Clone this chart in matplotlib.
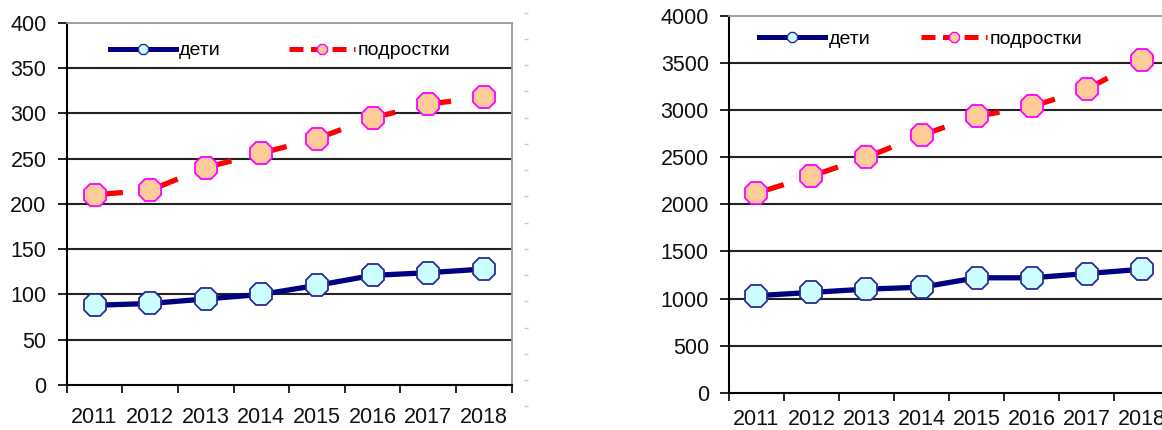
import matplotlib
matplotlib.use("Agg")
import matplotlib.pyplot as plt
import numpy as np

plt.rcParams['font.family'] = ['Liberation Sans', 'DejaVu Sans']

# данные
years = ['2011', '2012', '2013', '2014', '2015', '2016', '2017', '2018']
deti_left = [88, 90, 95, 100, 110, 121, 124, 128]
podr_left = [210, 215, 240, 256, 272, 295, 310, 318]
deti_right = [1030, 1065, 1100, 1120, 1220, 1220, 1265, 1310]
podr_right = [2120, 2300, 2500, 2735, 2935, 3040, 3220, 3535]

navy = '#000080'
txt = '#111111'


def draw_panel(ax, deti, podr, ymax, step, xpad, leg_anchor, colspace):
    x = np.arange(len(years))
    ax.set_xlim(-0.5, len(years) - 0.5)
    ax.set_ylim(0, ymax)

    # сетка
    for v in np.arange(step, ymax, step):
        ax.axhline(v, color='#222222', lw=1.5, zorder=1)

    ax.plot(x, deti, color=navy, lw=3.8, zorder=3)
    ax.plot(x, deti, ls='none', marker='8', ms=17.5, mfc='#ccffff', mec='#2b2b99', mew=1.3, zorder=4)
    ax.plot(x, podr, color='#ff0000', lw=3.8, dashes=(5.4, 5.4), zorder=3)
    ax.plot(x, podr, ls='none', marker='8', ms=17.5, mfc='#ffcc99', mec='#ff00ff', mew=1.3, zorder=4)

    # легенда
    h1 = plt.Line2D([], [], color=navy, lw=3.6, marker='8', ms=8, mfc='#ccffff', mec='#2b2b99', mew=1)
    h2 = plt.Line2D([], [], color='#ff0000', lw=3.6, dashes=(2.8, 1.5), marker='8', ms=8,
                    mfc='#ffcc99', mec='#ff00ff', mew=1)
    ax.legend([h1, h2], ['дети', 'подростки'], ncol=2, frameon=False, loc='center left',
              bbox_to_anchor=leg_anchor, borderpad=0, borderaxespad=0, fontsize=14,
              handlelength=3.4, handletextpad=0.15, columnspacing=colspace)

    ax.set_yticks(np.arange(0, ymax + 1, step))
    ax.set_xticks(np.arange(-0.5, len(years), 1))
    ax.set_xticklabels([])
    ax.set_xticks(x, minor=True)
    ax.set_xticklabels(years, minor=True)
    ax.tick_params(axis='y', length=6.5, width=1.2, labelsize=15.5, labelcolor=txt, pad=8)
    ax.tick_params(axis='x', which='major', length=5.8, width=1.2)
    ax.tick_params(axis='x', which='minor', length=0, labelsize=15.5, labelcolor=txt, pad=xpad)

    ax.spines['left'].set_linewidth(1.5)
    ax.spines['bottom'].set_linewidth(1.5)
    ax.spines['top'].set_color('#999999')
    ax.spines['right'].set_color('#999999')
    ax.spines['top'].set_linewidth(1.3)
    ax.spines['right'].set_linewidth(1.3)


fig = plt.figure(figsize=(11.62, 4.30), dpi=100)
W, H = 1162.0, 430.0

ax1 = fig.add_axes([66.7 / W, 1 - 385 / H, 444.8 / W, 362.3 / H])
draw_panel(ax1, deti_left, podr_left, 400, 50, 16, (0.097, 0.923), 3.5)

ax2 = fig.add_axes([729 / W, 1 - 392.7 / H, 440 / W, 376.7 / H])
draw_panel(ax2, deti_right, podr_right, 4000, 500, 12, (0.069, 0.938), 2.6)

# бледные засечки справа от левого графика
ax3 = fig.add_axes([525.5 / W, 1 - 406.25 / H, 0.0001, 393.75 / H])
ax3.set_ylim(0, 15)
ax3.set_yticks(np.arange(0, 16))
ax3.set_xticks([])
for s in ax3.spines.values():
    s.set_visible(False)
ax3.tick_params(axis='y', direction='inout', length=3, width=1, color='#c8c8c8', labelleft=False)
ax3.patch.set_alpha(0)

fig.savefig('out.png', dpi=100)
